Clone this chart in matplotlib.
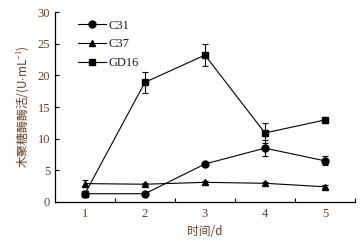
import matplotlib.pyplot as plt
import numpy as np

plt.rcParams['font.family'] = ['Liberation Serif', 'Noto Sans CJK SC']
plt.rcParams['mathtext.fontset'] = 'custom'
plt.rcParams['mathtext.rm'] = 'Liberation Serif'

days = [1, 2, 3, 4, 5]
c31 = [1.3, 1.3, 6.0, 8.5, 6.5]
c31_err = [0.0, 0.0, 0.3, 1.3, 0.7]
c37 = [2.9, 2.8, 3.1, 2.95, 2.4]
c37_err = [0.5, 0.2, 0.2, 0.2, 0.2]
gd16 = [1.3, 18.9, 23.2, 10.9, 12.95]
gd16_err = [0.0, 1.7, 1.7, 1.6, 0.4]

brown = "#6b3f1d"
cjk = ["Noto Sans CJK SC", "DejaVu Sans"]

fig = plt.figure(figsize=(3.64, 2.41), dpi=100)
ax = fig.add_axes([0.151, 0.162, 0.824, 0.788])

style = dict(color="k", lw=0.8, ms=5)
err = dict(fmt="none", ecolor="k", capsize=2, elinewidth=0.8, capthick=0.8)
for ys, es, mk, name in [(c31, c31_err, "o", "C31"),
                         (c37, c37_err, "^", "C37"),
                         (gd16, gd16_err, "s", "GD16")]:
    ax.errorbar(days, ys, yerr=es, **err)
    ax.plot(days, ys, marker=mk, label=name, **style)

ax.set_xlim(0.5, 5.5)
ax.set_ylim(0, 30)
ax.set_xticks([1.5, 2.5, 3.5, 4.5, 5.5])
ax.set_xticklabels([])
ax.set_yticks(np.arange(0, 31, 5))
ax.tick_params(axis="x", direction="in", length=3, width=0.8)
ax.tick_params(axis="y", direction="in", length=3, width=0.8, labelsize=9, labelcolor=brown)
for d in days:
    ax.text(d, -1.0, str(d), ha="center", va="top", fontsize=9, color=brown)

for s in ["top", "right"]:
    ax.spines[s].set_visible(False)
for s in ["left", "bottom"]:
    ax.spines[s].set_linewidth(0.9)

ax.text(3.0, -3.7, "时间/d", ha="center", va="top", fontsize=8.5, color=brown, family=cjk)
ax.set_ylabel("木聚糖酶酶活/(U${\\cdot}$mL$^{-1}$)", fontsize=8.5, color=brown,
              family=cjk, labelpad=5)

ax.legend(loc="upper left", bbox_to_anchor=(0.04, 1.02), frameon=False, fontsize=9,
          handlelength=2.2, handletextpad=0.2, labelspacing=0.55, labelcolor="#1a1a40")

fig.savefig("out.png", dpi=100)
